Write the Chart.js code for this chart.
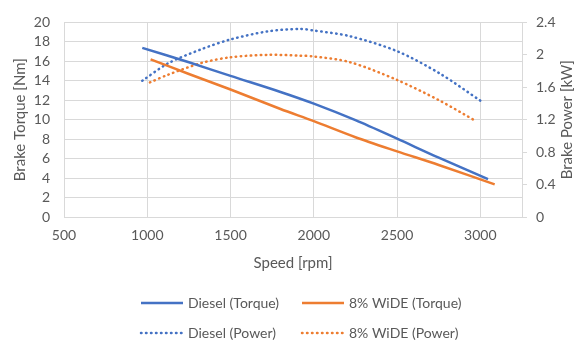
<!DOCTYPE html>
<html>
<head>
<meta charset="utf-8">
<script src="https://cdn.jsdelivr.net/npm/chart.js@4.4.1/dist/chart.umd.min.js"></script>
<style>
  html, body { margin: 0; padding: 0; background: #fff; }
</style>
</head>
<body>
<canvas id="chart" width="575" height="345"></canvas>
<script>
// values
const speedTicks = [500, 1000, 1500, 2000, 2500, 3000];

const dieselTorqueRpm = [970, 1250, 1500, 1800, 2000, 2250, 2500, 2750, 3046];
const dieselTorque = [17.38, 15.9, 14.5, 12.85, 11.65, 9.95, 8.05, 6.1, 3.9];

const wideTorqueRpm = [1020, 1250, 1500, 1800, 2000, 2250, 2500, 2750, 3086];
const wideTorque = [16.2, 14.7, 13.1, 11.1, 9.85, 8.2, 6.75, 5.35, 3.35];

const dieselPowerRpm = [970, 1125, 1326, 1500, 1726, 1916, 2000, 2216, 2500, 2756, 3000];
const dieselPower = [1.68, 1.895, 2.07, 2.19, 2.29, 2.32, 2.30, 2.23, 2.045, 1.77, 1.435];

const widePowerRpm = [1016, 1125, 1326, 1500, 1726, 1916, 2000, 2216, 2500, 2756, 2976];
const widePower = [1.66, 1.755, 1.90, 1.97, 2.00, 1.99, 1.98, 1.91, 1.69, 1.435, 1.18];

const blue = '#4472C4';
const orange = '#ED7D31';
const textColor = '#595959';
const gridColor = '#D9D9D9';
const fontFamily = 'Lato, "Open Sans", sans-serif';

function toPoints(xs, ys) {
    return xs.map((x, i) => ({ x: x, y: ys[i] }));
}

// legend drawn as two rows of two, like the original
const bottomLegend = {
    id: 'bottomLegend',
    afterDraw(chart) {
        const ctx = chart.ctx;
        ctx.save();
        ctx.font = '14px ' + fontFamily;
        ctx.fillStyle = textColor;
        ctx.textBaseline = 'middle';
        chart.data.datasets.forEach((ds, i) => {
            const x = i % 2 === 0 ? 140 : 301;
            const y = 303 + Math.floor(i / 2) * 30;
            ctx.strokeStyle = ds.borderColor;
            ctx.lineWidth = ds.borderWidth;
            ctx.lineCap = ds.borderCapStyle || 'butt';
            ctx.setLineDash(ds.borderDash || []);
            ctx.beginPath();
            ctx.moveTo(x + 1, y);
            ctx.lineTo(x + 43, y);
            ctx.stroke();
            ctx.fillText(ds.label, x + 48, y);
        });
        ctx.restore();
    }
};

// right axis title reads bottom-to-top
const rightTitle = {
    id: 'rightTitle',
    afterDraw(chart) {
        const ctx = chart.ctx;
        const area = chart.chartArea;
        ctx.save();
        ctx.font = '15px ' + fontFamily;
        ctx.fillStyle = textColor;
        ctx.textAlign = 'center';
        ctx.textBaseline = 'middle';
        ctx.translate(567, (area.top + area.bottom) / 2);
        ctx.rotate(-Math.PI / 2);
        ctx.fillText('Brake Power [kW]', 0, 0);
        ctx.restore();
    }
};

const dotted = { borderDash: [0.5, 4.5], borderCapStyle: 'round' };

new Chart(document.getElementById('chart'), {
    type: 'line',
    data: {
        datasets: [
            {
                label: 'Diesel (Torque)',
                data: toPoints(dieselTorqueRpm, dieselTorque),
                borderColor: blue,
                borderWidth: 2.5,
                yAxisID: 'y',
                tension: 0.3
            },
            {
                label: '8% WiDE (Torque)',
                data: toPoints(wideTorqueRpm, wideTorque),
                borderColor: orange,
                borderWidth: 2.5,
                yAxisID: 'y',
                tension: 0.3
            },
            {
                label: 'Diesel (Power)',
                data: toPoints(dieselPowerRpm, dieselPower),
                borderColor: blue,
                borderWidth: 2.5,
                ...dotted,
                yAxisID: 'y1',
                tension: 0.3
            },
            {
                label: '8% WiDE (Power)',
                data: toPoints(widePowerRpm, widePower),
                borderColor: orange,
                borderWidth: 2.5,
                ...dotted,
                yAxisID: 'y1',
                tension: 0.3
            }
        ]
    },
    options: {
        responsive: false,
        animation: false,
        layout: { padding: { top: 16, bottom: 71, left: 0, right: 0 } },
        elements: { point: { radius: 0 } },
        plugins: {
            legend: { display: false },
            tooltip: { enabled: false }
        },
        scales: {
            x: {
                type: 'linear',
                min: 500,
                max: 3250,
                afterBuildTicks: (scale) => {
                    scale.ticks = speedTicks.map(v => ({ value: v }));
                },
                afterFit: (scale) => { scale.height = 57; },
                ticks: {
                    autoSkip: false,
                    maxRotation: 0,
                    color: textColor,
                    font: { family: fontFamily, size: 14 },
                    padding: 10,
                    callback: (v) => String(v)
                },
                grid: { color: gridColor, drawTicks: false },
                border: { color: gridColor },
                title: { display: true, text: 'Speed [rpm]', color: textColor, font: { family: fontFamily, size: 15 }, padding: { top: 4, bottom: 2 } }
            },
            y: {
                position: 'left',
                min: 0,
                max: 20,
                afterFit: (scale) => { scale.width = 64; },
                ticks: { stepSize: 2, autoSkip: false, color: textColor, font: { family: fontFamily, size: 14 }, padding: 14 },
                grid: { color: gridColor, drawTicks: false },
                border: { display: false },
                title: { display: true, text: 'Brake Torque [Nm]', color: textColor, font: { family: fontFamily, size: 15 }, padding: { top: 11, bottom: 4 } }
            },
            y1: {
                position: 'right',
                min: 0,
                max: 2.4,
                afterFit: (scale) => { scale.width = 53; },
                ticks: {
                    stepSize: 0.4,
                    autoSkip: false,
                    color: textColor,
                    font: { family: fontFamily, size: 14 },
                    padding: 9,
                    callback: (v) => String(Math.round(v * 10) / 10)
                },
                grid: { drawOnChartArea: false, color: gridColor, tickLength: 5 },
                border: { color: gridColor }
            }
        }
    },
    plugins: [bottomLegend, rightTitle]
});
</script>
</body>
</html>
